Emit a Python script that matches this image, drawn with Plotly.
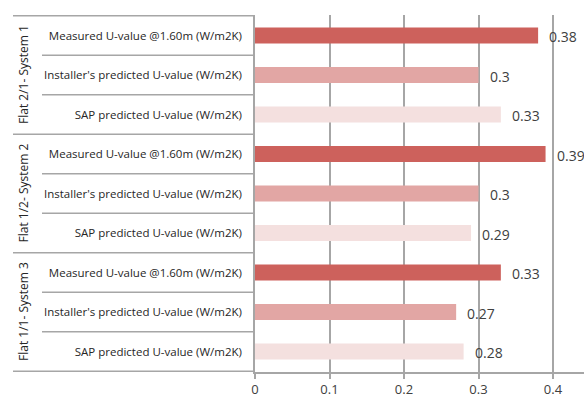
import plotly.graph_objects as go

groups = ["Flat 2/1- System 1", "Flat 1/2- System 2", "Flat 1/1- System 3"]
measures = ["Measured U-value @1.60m (W/m2K)",
            "Installer's predicted U-value (W/m2K)",
            "SAP predicted U-value (W/m2K)"]
values = [0.38, 0.30, 0.33,
          0.39, 0.30, 0.29,
          0.33, 0.27, 0.28]
measure_colors = ["#CD615C", "#E2A6A4", "#F4E0DF"]
x_ticks = [0, 0.1, 0.2, 0.3, 0.4]

n = len(groups) * len(measures)
ids = [f"r{i}" for i in range(n)]
labels = [measures[i % 3] for i in range(n)]
colors = [measure_colors[i % 3] for i in range(n)]

fig = go.Figure(go.Bar(
    x=values, y=ids, orientation="h",
    marker=dict(color=colors, line=dict(width=0)),
    width=0.4, hoverinfo="x+y"))

grid = "#A6A6A6"
fig.update_layout(
    width=584, height=399,
    margin=dict(l=255, r=0, t=15, b=27),
    paper_bgcolor="white", plot_bgcolor="white",
    showlegend=False,
    font=dict(family="Open Sans", color="#404040"),
    xaxis=dict(range=[0, 0.4416], tickvals=x_ticks,
               ticktext=[("0" if v == 0 else f"{v:g}") for v in x_ticks],
               showgrid=True, gridcolor=grid, gridwidth=1.5,
               zeroline=False, showline=True, linecolor=grid, linewidth=1.5,
               ticks="outside", ticklen=5, tickcolor=grid, tickwidth=1.5,
               tickfont=dict(size=13, color="#404040"), fixedrange=True),
    yaxis=dict(categoryorder="array", categoryarray=ids, autorange="reversed",
               tickvals=ids, ticktext=labels,
               showline=True, linecolor=grid, linewidth=1.5,
               showgrid=False, zeroline=False, ticks="", ticklabelstandoff=9,
               tickfont=dict(size=11.5, color="#262626"), fixedrange=True),
)

x_left_outer = (13 - 255) / 329
x_left_inner = (42 - 255) / 329
for k in range(n + 1):
    yv = k - 0.5
    x0 = x_left_outer if k % 3 == 0 else x_left_inner
    fig.add_shape(type="line", xref="paper", yref="y", x0=x0, x1=0,
                  y0=yv, y1=yv, line=dict(color=grid, width=1.5))

for gi, g in enumerate(groups):
    fig.add_annotation(xref="paper", yref="y", x=(23 - 255) / 329, y=gi * 3 + 1,
                       text=g, textangle=-90, showarrow=False,
                       xanchor="center", yanchor="middle",
                       font=dict(size=12, color="#262626"))

for i, v in enumerate(values):
    fig.add_annotation(x=v, y=ids[i], text=f"{v:g}", showarrow=False,
                       xanchor="left", xshift=9, yshift=-1,
                       font=dict(size=14, color="#404040"))

fig.write_html("out.html", config={"displayModeBar": False},
               post_script="document.body.style.margin='0';document.body.style.overflow='hidden';")
